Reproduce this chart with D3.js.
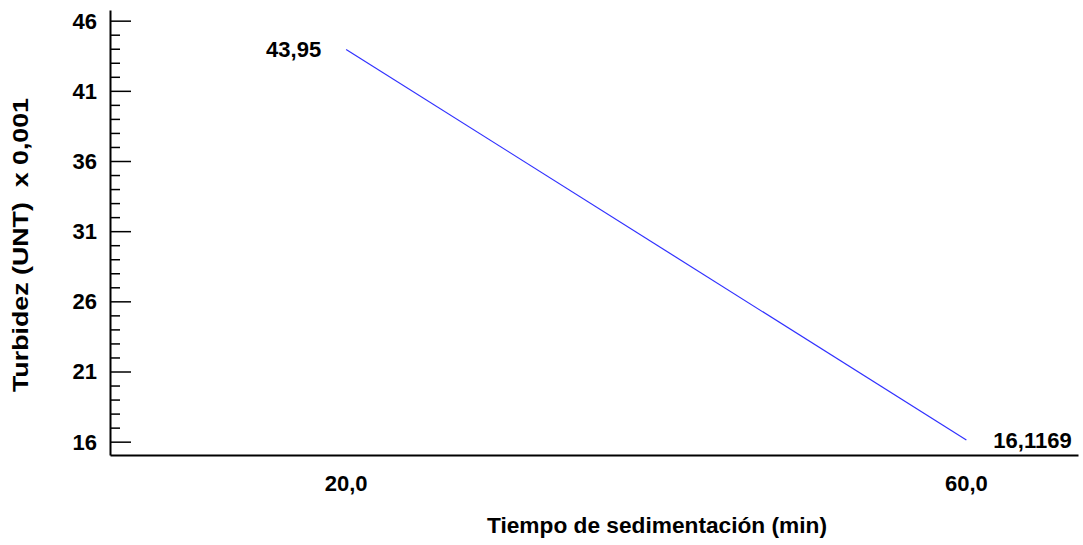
<!DOCTYPE html>
<html><head><meta charset="utf-8">
<script src="https://cdn.jsdelivr.net/npm/d3@7"></script>
<style>body{margin:0;background:#fff}svg{display:block}text{font-family:"Liberation Sans",Arial,sans-serif;font-weight:bold;fill:#000}</style>
</head><body>
<script>
// data
const xValues = [20, 60];
const yValues = [43.95, 16.1169];
const pointLabels = ["43,95", "16,1169"];
const xTicks = [20, 60];
const xTickLabels = ["20,0", "60,0"];
const yTicks = [16, 21, 26, 31, 36, 41, 46];
const xTitle = "Tiempo de sedimentación (min)";
const yTitle = "Turbidez (UNT)  x 0,001";
const xExtent = [4.77, 67.2];
const yExtent = [15.05, 46.76];

const W = 1083, H = 545;
const svg = d3.select("body").append("svg").attr("width", W).attr("height", H);
const x = d3.scaleLinear().domain(xExtent).range([110, 1078]);
const y = d3.scaleLinear().domain(yExtent).range([455, 10]);

// y axis
const yAxis = d3.axisRight(y).tickValues(d3.range(16, 47, 1)).tickSizeOuter(0)
  .tickSize(0).tickFormat("");
const gy = svg.append("g").attr("transform", `translate(${x(xExtent[0])},0)`).call(yAxis);
gy.select(".domain").attr("stroke", "#000").attr("stroke-width", 2);
gy.selectAll(".tick line").attr("x2", d => yTicks.includes(d) ? 21 : 10).attr("stroke", "#000").attr("stroke-width", 1.5);
svg.append("g").selectAll("text").data(yTicks).join("text")
  .attr("x", x(xExtent[0]) - 13).attr("y", d => y(d)).attr("dy", "0.36em")
  .attr("text-anchor", "end").attr("font-size", 22).text(d => d);

// x axis
const xAxis = d3.axisBottom(x).tickValues([]).tickSizeOuter(0);
const gx = svg.append("g").attr("transform", `translate(0,${y(yExtent[0])})`).call(xAxis);
gx.select(".domain").attr("stroke", "#000").attr("stroke-width", 2);
svg.append("g").selectAll("text").data(xTicks).join("text")
  .attr("x", d => x(d)).attr("y", 483).attr("dy", "0.36em")
  .attr("text-anchor", "middle").attr("font-size", 22).text((d, i) => xTickLabels[i]);

// line
const pts = xValues.map((d, i) => [d, yValues[i]]);
svg.append("path").datum(pts)
  .attr("d", d3.line().x(d => x(d[0])).y(d => y(d[1])))
  .attr("fill", "none").attr("stroke", "#3030ff").attr("stroke-width", 1.2);

// point labels
svg.append("text").attr("x", x(xValues[0]) - 25).attr("y", y(yValues[0])).attr("dy", "0.36em")
  .attr("text-anchor", "end").attr("font-size", 22).text(pointLabels[0]);
svg.append("text").attr("x", x(xValues[1]) + 27).attr("y", y(yValues[1])).attr("dy", "0.36em")
  .attr("text-anchor", "start").attr("font-size", 22).text(pointLabels[1]);

// titles
svg.append("text").attr("x", 657).attr("y", 533).attr("text-anchor", "middle")
  .attr("font-size", 22).attr("textLength", 340).attr("lengthAdjust", "spacingAndGlyphs").text(xTitle);
svg.append("text").attr("transform", `translate(28,245) rotate(-90)`).attr("text-anchor", "middle")
  .attr("font-size", 22).attr("textLength", 294).attr("lengthAdjust", "spacingAndGlyphs")
  .style("white-space", "pre").text(yTitle);
</script>
</body></html>
